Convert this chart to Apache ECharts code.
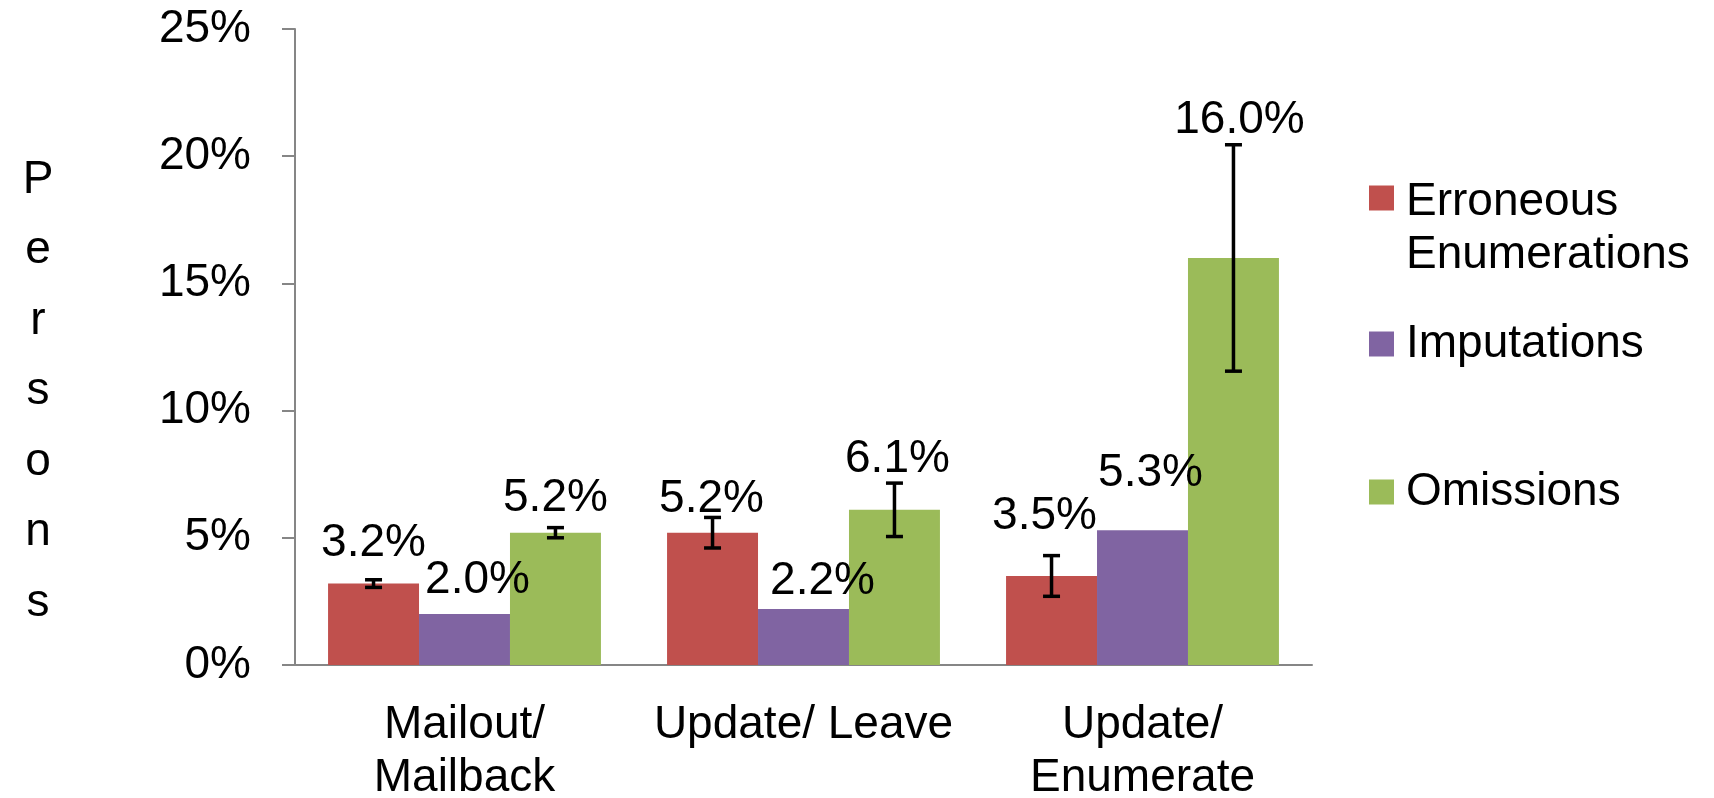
<!DOCTYPE html>
<html>
<head>
<meta charset="utf-8">
<script src="https://cdn.jsdelivr.net/npm/echarts@6/dist/echarts.min.js"></script>
<style>
  html, body { margin: 0; padding: 0; background: #fff; }
  #main { width: 1714px; height: 798px; }
</style>
</head>
<body>
<div id="main"></div>
<script>
// data
const categories = ['Mailout/\nMailback', 'Update/ Leave', 'Update/\nEnumerate'];
const erroneous = [3.2, 5.2, 3.5];
const imputations = [2.0, 2.2, 5.3];
const omissions = [5.2, 6.1, 16.0];
// error bar ends (low, high)
const erroneousLow = [3.05, 4.6, 2.7];
const erroneousHigh = [3.35, 5.8, 4.3];
const omissionsLow = [5.0, 5.05, 11.55];
const omissionsHigh = [5.4, 7.15, 20.45];

// label nudges, px (the labels were moved by hand in the original)
const nudgeRed = [[0, -17], [-1, -10], [-7, -37]];
const nudgePurple = [[13, -11], [19, -5], [8, -34]];
const nudgeGreen = [[0, -11], [3, -28], [6, -115]];

const FONT = 'Liberation Sans, Arial, sans-serif';
const FS = 46;
const GAP = 0.195;

let chart = echarts.init(document.getElementById('main'));

function barData(values, nudge) {
  return values.map((v, i) => ({ value: v, label: { offset: nudge[i] } }));
}

function errSeries(low, high, shift) {
  return {
    type: 'custom',
    z: 5,
    silent: true,
    clip: false,
    data: low.map((l, i) => [i, l, high[i]]),
    encode: { x: 0, y: [1, 2] },
    renderItem: function (params, api) {
      let cat = api.value(0);
      let lo = api.coord([cat, api.value(1)]);
      let hi = api.coord([cat, api.value(2)]);
      let band = api.size([1, 0])[0];
      let barW = band * (1 - GAP) / 3;
      let x = lo[0] + shift * barW;
      let st = { stroke: '#000', lineWidth: 3.5 };
      return {
        type: 'group',
        children: [
          { type: 'line', shape: { x1: x, y1: lo[1], x2: x, y2: hi[1] }, style: st },
          { type: 'line', shape: { x1: x - 8.5, y1: lo[1], x2: x + 8.5, y2: lo[1] }, style: st },
          { type: 'line', shape: { x1: x - 8.5, y1: hi[1], x2: x + 8.5, y2: hi[1] }, style: st }
        ]
      };
    }
  };
}

const labelStyle = {
  show: true,
  position: 'top',
  distance: 0,
  fontSize: FS,
  fontFamily: FONT,
  color: '#000',
  formatter: p => p.value.toFixed(1) + '%'
};

const legendText = {
  fontSize: FS,
  fontFamily: FONT,
  color: '#000',
  rich: {
    a: { fontSize: FS, fontFamily: FONT, color: '#000', lineHeight: 53, padding: [0, 0, 0, 7] },
    gap: { lineHeight: 62 }
  }
};

const legendBase = {
  orient: 'vertical',
  left: 1369,
  padding: 0,
  itemWidth: 25,
  itemHeight: 25,
  icon: 'rect',
  selectedMode: false,
  textStyle: legendText,
  formatter: name => '{a|' + name + '}'
};

let option = {
  animation: false,
  color: ['#C0504D', '#8064A2', '#9BBB59'],
  title: {
    text: 'P\ne\nr\ns\no\nn\ns',
    left: 33,
    top: 140,
    textAlign: 'center',
    textStyle: { fontSize: FS, fontWeight: 'normal', fontFamily: FONT, color: '#000', lineHeight: 70.5 }
  },
  legend: [
    Object.assign({}, legendBase, {
      top: 122,
      data: ['Erroneous Enumerations'],
      // blank first line keeps the icon level with the first line
      formatter: () => '{gap|}\n{a|Erroneous}\n{a|Enumerations}'
    }),
    Object.assign({}, legendBase, { top: 321, data: ['Imputations'] }),
    Object.assign({}, legendBase, { top: 469, data: ['Omissions'] })
  ],
  grid: { left: 295, right: 402, top: 29, bottom: 133, outerBoundsMode: 'none' },
  xAxis: {
    type: 'category',
    data: categories,
    axisLine: { lineStyle: { color: '#868686', width: 2 } },
    axisTick: { show: false },
    axisLabel: { fontSize: FS, fontFamily: FONT, color: '#000', lineHeight: 53, margin: 34, interval: 0 }
  },
  yAxis: {
    type: 'value',
    min: 0,
    max: 25,
    interval: 5,
    splitLine: { show: false },
    axisLine: { show: true, lineStyle: { color: '#868686', width: 2 } },
    axisTick: { show: true, length: 13, lineStyle: { color: '#868686', width: 2 } },
    axisLabel: { fontSize: FS, fontFamily: FONT, color: '#000', margin: 44, formatter: '{value}%' }
  },
  series: [
    { name: 'Erroneous Enumerations', type: 'bar', barGap: 0, barCategoryGap: (GAP * 100) + '%', data: barData(erroneous, nudgeRed), label: labelStyle },
    { name: 'Imputations', type: 'bar', barGap: 0, barCategoryGap: (GAP * 100) + '%', data: barData(imputations, nudgePurple), label: labelStyle },
    { name: 'Omissions', type: 'bar', barGap: 0, barCategoryGap: (GAP * 100) + '%', data: barData(omissions, nudgeGreen), label: labelStyle },
    errSeries(erroneousLow, erroneousHigh, -1),
    errSeries(omissionsLow, omissionsHigh, 1)
  ]
};

chart.setOption(option);
</script>
</body>
</html>
